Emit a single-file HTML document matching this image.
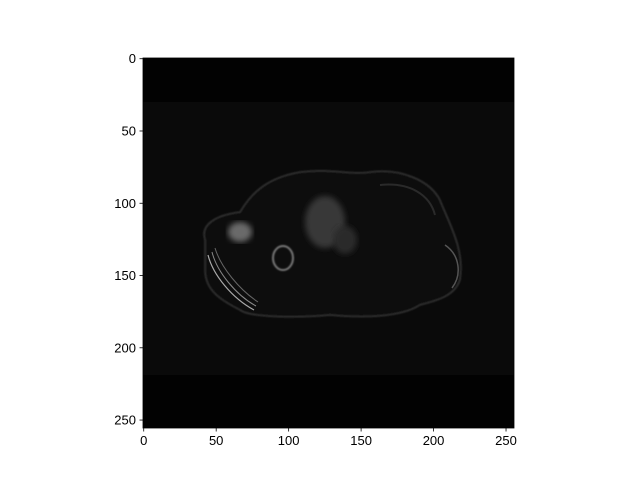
<!DOCTYPE html>
<html><head><meta charset="utf-8"><style>
html,body{margin:0;padding:0;background:#fff;}
svg{display:block;font-family:"Liberation Sans","DejaVu Sans",sans-serif;}
</style></head>
<body>
<svg id="chart" width="640" height="480" viewBox="0 0 640 480">
<defs>
<filter id="blur1"><feGaussianBlur stdDeviation="0.8"/></filter>
<filter id="blur3"><feGaussianBlur stdDeviation="3"/></filter>
</defs>
<rect x="143" y="58" width="371" height="370" fill="#020202"/>
<g id="scan">
  <rect x="143" y="102" width="371" height="273" fill="#0a0a0a"/>
  <path d="M205,240 C200,225 215,215 240,212 C250,195 265,178 300,172 C330,168 350,175 370,172 C400,168 430,180 440,200 C450,225 465,250 460,280 C455,295 440,300 420,305 C400,318 360,318 330,315 C300,318 250,318 240,310 C220,300 205,290 205,270 Z" fill="#0f0f0f" stroke="#333" stroke-width="1.5" filter="url(#blur1)"/>
  <path d="M208,255 C213,275 232,298 254,310" fill="none" stroke="#aaa" stroke-width="1.2"/>
  <path d="M212,252 C217,272 236,295 256,306" fill="none" stroke="#888" stroke-width="1"/>
  <path d="M215,248 C221,268 240,290 258,302" fill="none" stroke="#666" stroke-width="1"/>
  <ellipse cx="240" cy="232" rx="12" ry="10" fill="#6a6a6a" filter="url(#blur3)"/>
  <ellipse cx="283" cy="258" rx="10" ry="12" fill="none" stroke="#777" stroke-width="2" filter="url(#blur1)"/>
  <ellipse cx="325" cy="222" rx="20" ry="26" fill="#383838" filter="url(#blur3)"/>
  <ellipse cx="345" cy="240" rx="12" ry="14" fill="#2a2a2a" filter="url(#blur3)"/>
  <path d="M380,185 C410,182 430,195 435,215" fill="none" stroke="#2a2a2a" stroke-width="2"/>
  <path d="M445,245 C460,255 462,275 452,288" fill="none" stroke="#555" stroke-width="1.5"/>
</g>
<g id="axes"></g>
</svg>
<script>
const xTicks = [0, 50, 100, 150, 200, 250];
const yTicks = [0, 50, 100, 150, 200, 250];
const nPix = 256;
const x0 = 143, x1 = 514, y0 = 58, y1 = 428;
function xScale(v){ return x0 + (v + 0.5) * (x1 - x0) / nPix; }
function yScale(v){ return y0 + (v + 0.5) * (y1 - y0) / nPix; }
const NS = "http://www.w3.org/2000/svg";
const g = document.getElementById('axes');
function mk(tag, attrs){ const e = document.createElementNS(NS, tag); for (const k in attrs) e.setAttribute(k, attrs[k]); g.appendChild(e); return e; }
const frame = mk('rect', {x:x0, y:y0, width:x1-x0, height:y1-y0, fill:'none', stroke:'#000', 'stroke-width':0.8});


xTicks.forEach(v => {
  const x = xScale(v);
  const t = mk('line', {x1:x, x2:x, y1:y1, y2:y1+3.5, stroke:'#000', 'stroke-width':0.8});
  
  
  const l = mk('text', {x:x, y:y1+17, 'font-size':13, 'text-anchor':'middle', fill:'#000'});
  l.textContent = v;
  
  
});
yTicks.forEach(v => {
  const y = yScale(v);
  const t = mk('line', {x1:x0-3.5, x2:x0, y1:y, y2:y, stroke:'#000', 'stroke-width':0.8});
  
  
  const l = mk('text', {x:x0-7, y:y+4.5, 'font-size':13, 'text-anchor':'end', fill:'#000'});
  l.textContent = v;
  
  
});
</script>
</body></html>
